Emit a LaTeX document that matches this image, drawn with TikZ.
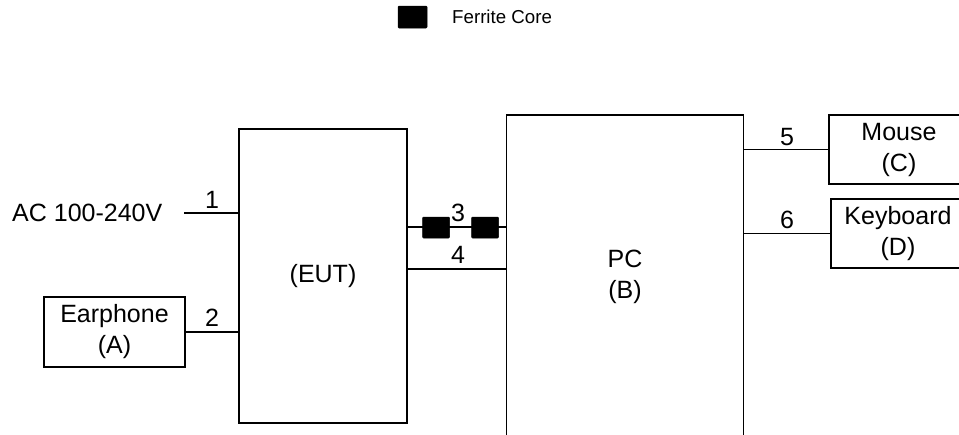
\documentclass[tikz,border=0pt]{standalone}
\usepackage{fontspec}
\setmainfont{Liberation Sans}
\begin{document}
\begin{tikzpicture}[x=1pt,y=-1pt,
  box/.style={draw=black,line width=1.8pt,rectangle,inner sep=0pt,align=center,
    font=\fontsize{25}{31}\selectfont},
  wire/.style={draw=black,line width=1.8pt},
  lbl/.style={inner sep=0pt,font=\fontsize{25}{28}\selectfont},
  core/.style={fill=black,draw=black,line width=0.5pt,rounded corners=1pt,minimum width=27pt,minimum height=21pt,inner sep=0pt}]
\useasboundingbox (0,0) rectangle (959,434);
% legend
\node[core,minimum width=29pt,minimum height=22pt] (legcore) at (412.5,17) {};
\node[anchor=west,inner sep=0pt,font=\fontsize{18.7}{22}\selectfont] (legtxt) at (452,17) {Ferrite Core};
% boxes
\node[box,minimum width=168pt,minimum height=294pt] (eut) at (323,276) {(EUT)};
\node[box,minimum width=237pt,minimum height=324pt] (pc) at (625,277) {PC\\(B)};
\node[box,minimum width=141pt,minimum height=70pt] (ear) at (114.5,332) {Earphone\\(A)};
\node[box,minimum width=140pt,minimum height=69pt] (mouse) at (899,149.5) {Mouse\\(C)};
\node[box,minimum width=134pt,minimum height=69pt] (kbd) at (898,233.5) {Keyboard\\(D)};
% AC
\node[lbl,anchor=west] (ac) at (12,213) {AC 100-240V};
\coordinate (acend) at (184,213);
% wires
\draw[wire] (acend) -- (eut.west |- acend);
\draw[wire] (ear.east) -- (eut.west |- ear.east);
\coordinate (w3) at (407,227);
\draw[wire] (eut.east |- w3) -- (pc.west |- w3);
\coordinate (w4) at (407,269);
\draw[wire] (eut.east |- w4) -- (pc.west |- w4);
\draw[wire] (pc.east |- mouse.west) -- (mouse.west);
\draw[wire] (pc.east |- kbd.west) -- (kbd.west);
% ferrite cores
\node[core] (c1) at (436,227.5) {};
\node[core] (c2) at (485,227.5) {};
% labels
\node[lbl] (l1) at (212,200) {1};
\node[lbl] (l2) at (212,318) {2};
\node[lbl] (l3) at (458,213) {3};
\node[lbl] (l4) at (458,255) {4};
\node[lbl] (l5) at (787,137) {5};
\node[lbl] (l6) at (787,220) {6};
\end{tikzpicture}
\end{document}
